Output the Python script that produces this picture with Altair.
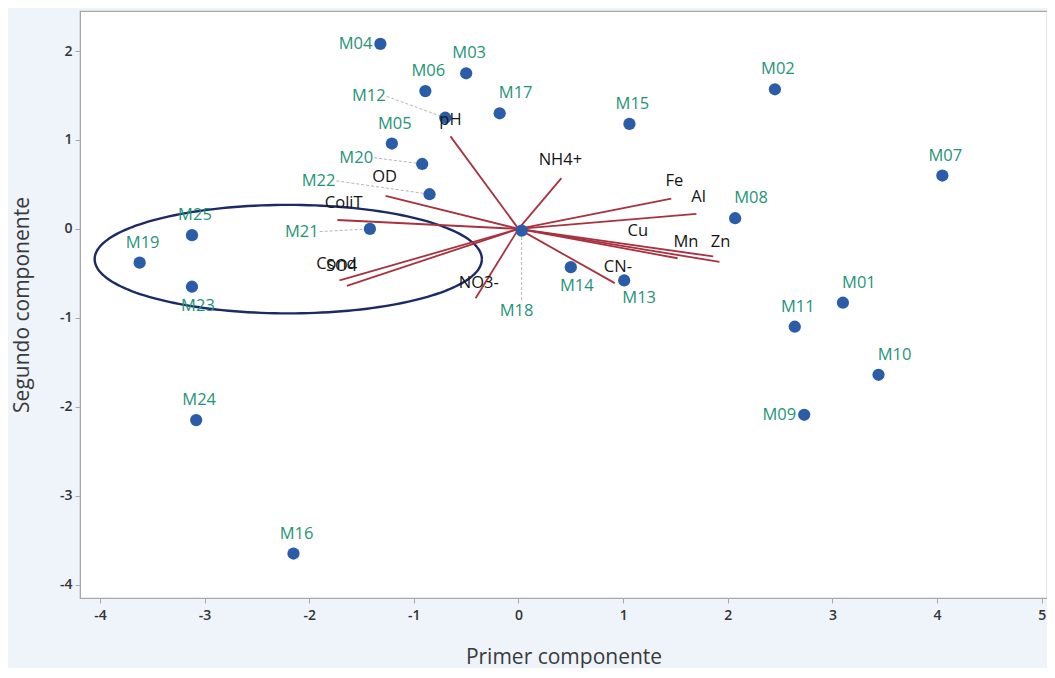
import altair as alt
import numpy as np
import pandas as pd

# ---- sample scores (PC1, PC2) ----
samples = ["M01", "M02", "M03", "M04", "M05", "M06", "M07", "M08", "M09", "M10",
           "M11", "M12", "M13", "M14", "M15", "M16", "M17", "M18", "M19", "M20",
           "M21", "M22", "M23", "M24", "M25"]
pc1 = [3.10, 2.45, -0.50, -1.32, -1.21, -0.89, 4.05, 2.07, 2.73, 3.44,
       2.64, -0.70, 1.01, 0.50, 1.06, -2.15, -0.18, 0.03, -3.62, -0.92,
       -1.42, -0.85, -3.12, -3.08, -3.12]
pc2 = [-0.83, 1.57, 1.75, 2.08, 0.96, 1.55, 0.60, 0.12, -2.09, -1.64,
       -1.10, 1.25, -0.58, -0.43, 1.18, -3.65, 1.30, -0.02, -0.38, 0.73,
       0.00, 0.39, -0.65, -2.15, -0.07]
# label placement category for each sample
placement = ["topright", "top", "top", "left", "top", "top", "top", "topright", "left", "topright",
             "top", "leader", "bottomright", "bottom", "top", "top", "topright", "leader", "top", "leader",
             "leader", "leader", "bottom", "top", "top"]

# leader-line labels (label anchor in data units)
leader_names = ["M12", "M20", "M22", "M21", "M18"]
leader_lx = [-1.26, -1.38, -1.74, -1.90, 0.03]
leader_ly = [1.49, 0.80, 0.54, -0.03, -0.80]
leader_align = ["right", "right", "right", "right", "center"]

# ---- variable loadings (vector end points) ----
variables = ["pH", "NH4+", "Fe", "Al", "Cu", "Mn", "Zn", "CN-", "NO3-", "Cond", "SO4", "ColiT", "OD"]
vec_x = [-0.65, 0.41, 1.46, 1.70, 1.52, 1.86, 1.92, 0.92, -0.41, -1.71, -1.64, -1.73, -1.27]
vec_y = [1.04, 0.57, 0.34, 0.17, -0.33, -0.31, -0.37, -0.61, -0.78, -0.58, -0.64, 0.10, 0.37]
lab_x = [-0.65, 0.40, 1.49, 1.72, 1.14, 1.60, 1.93, 0.95, -0.38, -1.74, -1.69, -1.67, -1.28]
lab_y = [1.22, 0.78, 0.54, 0.36, -0.02, -0.15, -0.15, -0.43, -0.61, -0.40, -0.42, 0.29, 0.58]

# ---- grouping ellipse ----
ell_cx, ell_cy, ell_rx, ell_ry = -2.20, -0.34, 1.85, 0.61

x_ticks = [-4, -3, -2, -1, 0, 1, 2, 3, 4, 5]
y_ticks = [-4, -3, -2, -1, 0, 1, 2]

FONT = "Open Sans"
POINT_COLOR = "#2a5ca8"
LABEL_COLOR = "#1f9478"
VEC_COLOR = "#a8323f"
LFS = 16.5

xscale = alt.Scale(domain=[-4.19, 5.05], nice=False, zero=False)
yscale = alt.Scale(domain=[-4.15, 2.45], nice=False, zero=False)


def X(field="x"):
    return alt.X(f"{field}:Q", scale=xscale, title="Primer componente",
                 axis=alt.Axis(values=x_ticks, labelExpr="datum.value", grid=False))


def Y(field="y"):
    return alt.Y(f"{field}:Q", scale=yscale, title="Segundo componente",
                 axis=alt.Axis(values=y_ticks, labelExpr="datum.value", grid=False))


pts = pd.DataFrame({"x": pc1, "y": pc2, "name": samples, "place": placement})
vec = pd.DataFrame({"x": [0.0] * len(variables), "y": [0.0] * len(variables),
                    "x2": vec_x, "y2": vec_y, "name": variables,
                    "lx": lab_x, "ly": lab_y})

lead_pts = pts.set_index("name").loc[leader_names]
lead = pd.DataFrame({"x": leader_lx, "y": leader_ly,
                     "x2": lead_pts["x"].values, "y2": lead_pts["y"].values,
                     "name": leader_names, "align": leader_align})

t = np.linspace(0, 2 * np.pi, 181)
ell = pd.DataFrame({"x": ell_cx + ell_rx * np.cos(t), "y": ell_cy + ell_ry * np.sin(t),
                    "o": np.arange(len(t))})

# layers
vectors = alt.Chart(vec).mark_rule(color=VEC_COLOR, strokeWidth=1.8).encode(
    x=X(), y=Y(), x2="x2:Q", y2="y2:Q")

vec_labels = alt.Chart(vec).mark_text(font=FONT, fontSize=LFS, fontWeight=500, color="#151515",
                                      baseline="middle").encode(
    x=X("lx"), y=Y("ly"), text="name:N")

leader_lines = alt.Chart(lead).mark_rule(color="#b5b5b5", strokeWidth=1,
                                         strokeDash=[3, 2]).encode(
    x=X(), y=Y(), x2="x2:Q", y2="y2:Q")

ellipse = alt.Chart(ell).mark_line(color="#1c2a66", strokeWidth=2.4).encode(
    x=X(), y=Y(), order="o:Q")

points = alt.Chart(pts).mark_circle(size=150, opacity=1, color=POINT_COLOR).encode(
    x=X(), y=Y())


def sample_labels(place, **kw):
    return alt.Chart(pts).transform_filter(alt.datum.place == place).mark_text(
        font=FONT, fontSize=LFS, color=LABEL_COLOR, baseline="middle", **kw).encode(
        x=X(), y=Y(), text="name:N")


lab_top = sample_labels("top", dy=-20, dx=3)
lab_topr = sample_labels("topright", dy=-20, dx=16)
lab_bottom = sample_labels("bottom", dy=19, dx=6)
lab_bottomr = sample_labels("bottomright", dy=18, dx=15)
lab_left = sample_labels("left", align="right", dx=-8, dy=0)

lead_left = alt.Chart(lead).transform_filter(alt.datum.align == "right").mark_text(
    font=FONT, fontSize=LFS, color=LABEL_COLOR, baseline="middle", align="right", dx=-1).encode(
    x=X(), y=Y(), text="name:N")
lead_center = alt.Chart(lead).transform_filter(alt.datum.align == "center").mark_text(
    font=FONT, fontSize=LFS, color=LABEL_COLOR, baseline="top", align="center", dx=-5, dy=3).encode(
    x=X(), y=Y(), text="name:N")

chart = alt.layer(
    ellipse, vectors, leader_lines, points, vec_labels,
    lab_top, lab_topr, lab_bottom, lab_bottomr, lab_left, lead_left, lead_center
).properties(
    width=967, height=587,
    autosize=alt.AutoSizeParams(type="none"),
    padding={"left": 72, "top": 3, "right": 0, "bottom": 70},
    background="#eef4fa",
).configure_view(
    fill="white", stroke="#a8a8a8", strokeWidth=1.2
).configure_axis(
    domainColor="#a8a8a8", tickColor="#a8a8a8", tickSize=5,
    labelFont=FONT, labelFontSize=14, labelFontWeight=600, labelColor="#333333",
    labelPadding=3,
    titleFont=FONT, titleFontSize=21, titleFontWeight="normal", titleColor="#3a3a3a",
).configure_axisX(titlePadding=24, labelPadding=5).configure_axisY(titlePadding=27)

chart.save("out.html", embed_options={"renderer": "svg", "actions": False})
